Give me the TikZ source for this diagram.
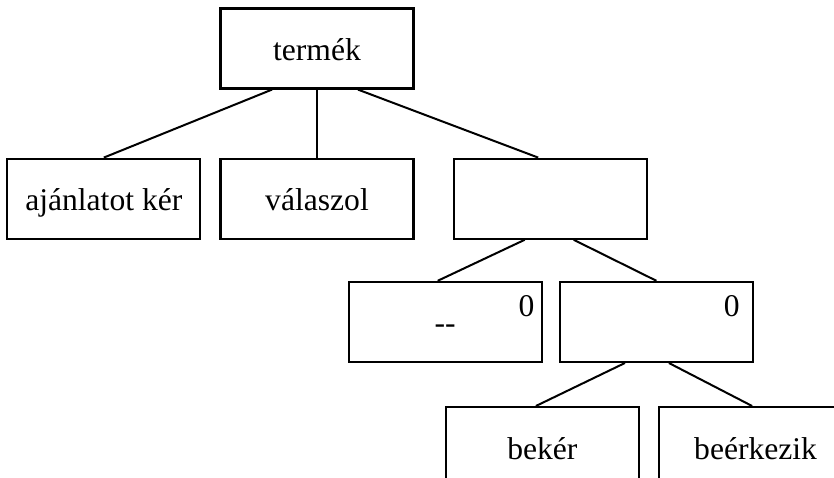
\documentclass[tikz,border=0pt]{standalone}
\usepackage{fontspec}
\setmainfont{Liberation Serif}
\usetikzlibrary{
  calc,
  positioning
}
\definecolor{ink}{HTML}{000000}
\definecolor{paper}{HTML}{FFFFFF}
\tikzset{
  box/.style={
    draw=ink,
    fill=paper,
    line width=1.1pt,
    minimum width=96.5pt,
    minimum height=40pt,
    inner sep=0pt,
    text height=16pt,
    text depth=4pt,
    font=\fontsize{15.8}{19}\selectfont,
    align=center
  },
  digit/.style={
    inner sep=0pt,
    anchor=north east,
    font=\fontsize{15.8}{19}\selectfont
  },
  branch/.style={
    draw=ink,
    line width=1pt
  }
}

\begin{document}
\begin{tikzpicture}
  \useasboundingbox[fill=paper] (0,0) rectangle (417pt,238.5pt);
  \clip (0,0) rectangle (417pt,238.5pt);
  \node[box] (termek) at (158.5pt,214.25pt) {termék};
  \node[box, below=34pt of termek] (valaszol) {válaszol};
  \node[box, left=9pt of valaszol] (ajanlat) {ajánlatot kér};
  \node[box, right=19pt of valaszol] (blank) {};
  \node[box, below=20.5pt of blank, xshift=-52.5pt] (dash) {-{}-};
  \node[box, right=8pt of dash] (zero) {};
  \node[box, below=21.5pt of zero, xshift=-57pt] (beker) {bekér};
  \node[box, right=9pt of beker] (beerkezik) {beérkezik};
  % top-right marks
  \node[digit] (dashnum) at ([shift={(-4pt,-7pt)}]dash.north east) {0};
  \node[digit] (zeronum) at ([shift={(-7pt,-7pt)}]zero.north east) {0};
  % branches
  \draw[branch] ([xshift=-22.5pt]termek.south) -- (ajanlat.north);
  \draw[branch] (termek.south) -- (valaszol.north);
  \draw[branch] ([xshift=20.5pt]termek.south) -- ([xshift=-6pt]blank.north);
  \draw[branch] ([xshift=-12.75pt]blank.south) -- ([xshift=-3.75pt]dash.north);
  \draw[branch] ([xshift=11.75pt]blank.south) -- (zero.north);
  \draw[branch] ([xshift=-15.75pt]zero.south) -- ([xshift=-3.25pt]beker.north);
  \draw[branch] ([xshift=6.25pt]zero.south) -- ([xshift=-1.75pt]beerkezik.north);
\end{tikzpicture}
\end{document}
